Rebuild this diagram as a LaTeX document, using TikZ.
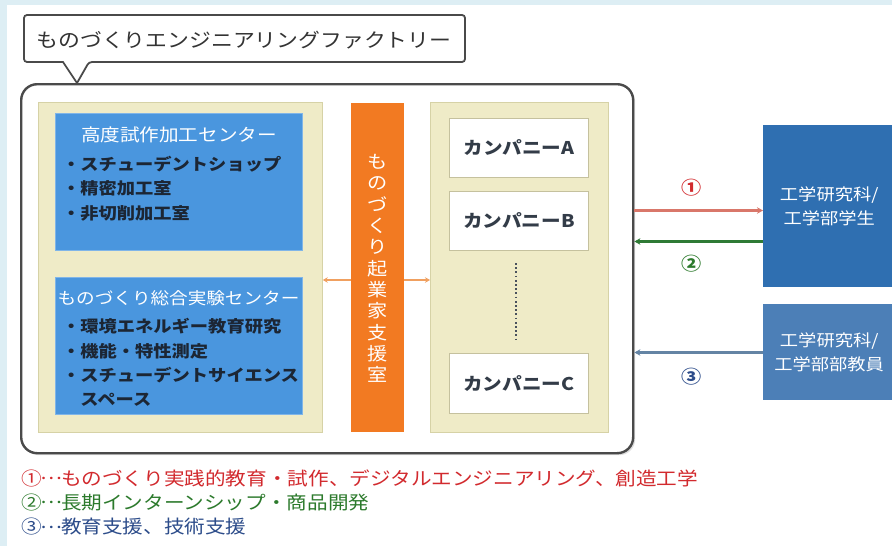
\documentclass[tikz,border=0pt]{standalone}
\usepackage{fontspec}
\newfontfamily\jp[FakeStretch=1.12]{Noto Sans CJK JP}
\usetikzlibrary{shadows,arrows.meta}
\newcommand{\middots}{\makebox[1.05em][c]{\raisebox{0.3em}{…}}}
\definecolor{bgblue}{HTML}{DDEEF4}
\definecolor{frame}{HTML}{4A4A4A}
\definecolor{beige}{HTML}{EFEBC7}
\definecolor{beigeline}{HTML}{D6D2A6}
\definecolor{boxblue}{HTML}{4A96DE}
\definecolor{orangebar}{HTML}{F27A22}
\definecolor{orangearr}{HTML}{F0A060}
\definecolor{studblue}{HTML}{2F6FB1}
\definecolor{staffblue}{HTML}{4C7FB7}
\definecolor{redarr}{HTML}{D9776A}
\definecolor{greenarr}{HTML}{2F7A35}
\definecolor{bluearr}{HTML}{6484A4}
\definecolor{redtxt}{HTML}{D22A2E}
\definecolor{greentxt}{HTML}{2C7A2C}
\definecolor{bluetxt}{HTML}{2C4C8A}
\definecolor{darktxt}{HTML}{1C2634}
\tikzset{
  panel/.style={fill=beige, draw=beigeline, line width=0.8pt, anchor=north west, inner sep=0pt},
  bluebox/.style={fill=boxblue, draw=boxblue!70!white, line width=0.6pt, anchor=north west, inner sep=0pt},
  company/.style={fill=white, draw=beigeline!80!gray, line width=0.8pt, anchor=north west, inner sep=0pt,
    font=\jp\bfseries\fontsize{17.5}{20}\selectfont, text=darktxt!90!white},
  boxtitle/.style={font=\jp\fontsize{17.5}{20}\selectfont, text=white},
  bullets/.style={font=\jp\bfseries\fontsize{16.3}{24.5}\selectfont, text=darktxt, align=left, anchor=west, inner sep=0pt},
  rightbox/.style={anchor=north west, inner sep=0pt, align=center, text=white,
    font=\jp\fontsize{16.3}{24}\selectfont},
  arr/.style={line width=2.2pt, -{Stealth[length=6pt,width=6.5pt]}},
  legend/.style={anchor=west, inner sep=0pt, font=\jp\fontsize{18.4}{22}\selectfont},
  numlab/.style={font=\jp\bfseries\fontsize{18}{20}\selectfont}
}
\begin{document}
\begin{tikzpicture}[x=1pt,y=-1pt]
\useasboundingbox (0,0) rectangle (892,546);
\fill[bgblue] (0,0) rectangle (892,546);
\fill[white] (7,5) rectangle (892,546);

% main frame
\node[draw=frame, line width=2.4pt, fill=white, rounded corners=16pt, anchor=north west,
  minimum width=612pt, minimum height=369pt, inner sep=0pt,
  drop shadow={opacity=0.25, shadow xshift=2pt, shadow yshift=-2pt}] (main) at (20,83) {};

% callout
\draw[frame, line width=1.8pt, fill=white, rounded corners=3pt]
  (24,15) -- (465,15) -- (465,62) -- (89,62) [sharp corners] -- (77,83) -- (63,62) [rounded corners=3pt] -- (24,62) -- cycle;
\node[font=\jp\fontsize{19.5}{22}\selectfont, text=black!80] (ttl) at (244,40) {ものづくりエンジニアリングファクトリー};

% left panel
\node[panel, minimum width=284pt, minimum height=330pt] (lp) at (38,102) {};
\node[bluebox, minimum width=247pt, minimum height=137pt] (b1) at (55,113) {};
\node[boxtitle] (t1) at (179,135) {高度試作加工センター};
\node[bullets] (l1) at (62,188.5) {・スチューデントショップ\\・精密加工室\\・非切削加工室};
\node[bluebox, minimum width=247pt, minimum height=137pt] (b2) at (55,277) {};
\node[boxtitle, font=\jp\fontsize{16.6}{20}\selectfont] (t2) at (178.5,298) {ものづくり総合実験センター};
\node[bullets, font=\jp\bfseries\fontsize{16.3}{24.4}\selectfont] (l2) at (62,362.5) {・環境エネルギー教育研究\\・機能・特性測定\\・スチューデントサイエンス\\\phantom{・}スペース};

% orange bar
\node[fill=orangebar, anchor=north west, inner sep=0pt, minimum width=53pt, minimum height=329pt] (bar) at (351,103) {};
\node[align=center, text=white, font=\jp\fontsize{18}{21.3}\selectfont, inner sep=0pt] (vt) at (377.5,268.5)
  {も\\の\\づ\\く\\り\\起\\業\\家\\支\\援\\室};

% right panel
\node[panel, minimum width=178pt, minimum height=330pt] (rp) at (430,102) {};
\node[company, minimum width=139pt, minimum height=59pt] (ca) at (449,118) {カンパニーA};
\node[company, minimum width=139pt, minimum height=59pt] (cb) at (449,191) {カンパニーB};
\node[company, minimum width=139pt, minimum height=60pt] (cc) at (449,353) {カンパニーC};
\coordinate (d1) at (516,263);
\coordinate (d2) at (516,340);
\draw[darktxt!80, line width=1.8pt, dash pattern=on 1.8pt off 2.4pt] (d1) -- (d2);

% orange arrows
\coordinate (y280) at (0,280);
\draw[orangearr, line width=1.6pt, -{Stealth[length=5pt,width=5.5pt]}] (bar.west |- y280) -- (lp.east |- y280);
\draw[orangearr, line width=1.6pt, -{Stealth[length=5pt,width=5.5pt]}] (bar.east |- y280) -- (rp.west |- y280);

% right boxes
\node[rightbox, fill=studblue, minimum width=132pt, minimum height=162pt] (st) at (763,125) {工学研究科/\\工学部学生};
\node[rightbox, fill=staffblue, minimum width=132pt, minimum height=96pt] (sf) at (763,304) {工学研究科/\\工学部部教員};

% connectors
\coordinate (y210) at (0,210.5);
\coordinate (y241) at (0,241.5);
\coordinate (y352) at (0,352.5);
\draw[arr, redarr] (main.east |- y210) -- (st.west |- y210);
\draw[arr, greenarr] (st.west |- y241) -- (main.east |- y241);
\draw[arr, bluearr] (sf.west |- y352) -- (main.east |- y352);
\node[numlab, text=redtxt] (n1) at (692,188) {①};
\node[numlab, text=greentxt] (n2) at (692,264) {②};
\node[numlab, text=bluetxt] (n3) at (692,377) {③};

% legend
\node[legend, text=redtxt] (g1) at (21,478) {①\middots ものづくり実践的教育・試作、デジタルエンジニアリング、創造工学};
\node[legend, text=greentxt] (g2) at (21,502.5) {②\middots 長期インターンシップ・商品開発};
\node[legend, text=bluetxt] (g3) at (21,527) {③\middots 教育支援、技術支援};
\end{tikzpicture}
\end{document}
